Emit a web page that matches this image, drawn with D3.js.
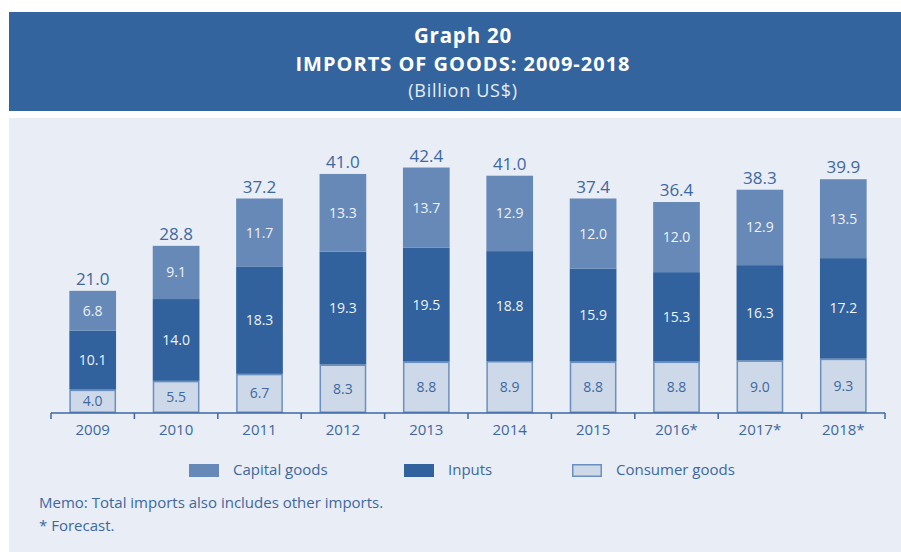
<!DOCTYPE html>
<html>
<head>
<meta charset="utf-8">
<script src="https://cdn.jsdelivr.net/npm/d3@7"></script>
<style>
  html, body { margin: 0; padding: 0; background: #ffffff; }
  svg { display: block; font-family: "Open Sans", "Noto Sans", sans-serif; }
</style>
</head>
<body>
<svg id="chart" width="901" height="552"></svg>
<script>
// Imports of goods by category, billion US$
const years = ["2009", "2010", "2011", "2012", "2013", "2014", "2015", "2016*", "2017*", "2018*"];
const consumerGoods = [4.0, 5.5, 6.7, 8.3, 8.8, 8.9, 8.8, 8.8, 9.0, 9.3];
const inputs = [10.1, 14.0, 18.3, 19.3, 19.5, 18.8, 15.9, 15.3, 16.3, 17.2];
const capitalGoods = [6.8, 9.1, 11.7, 13.3, 13.7, 12.9, 12.0, 12.0, 12.9, 13.5];
const totals = [21.0, 28.8, 37.2, 41.0, 42.4, 41.0, 37.4, 36.4, 38.3, 39.9];

const seriesKeys = ["consumer", "inputs", "capital"];
const seriesNames = { capital: "Capital goods", inputs: "Inputs", consumer: "Consumer goods" };
const fills = { capital: "#6689b7", inputs: "#31629d", consumer: "#cdd9e8" };
const consumerStroke = "#6b8fbe";
const textColor = "#3d68a2";

const rows = years.map((y, i) => ({
  year: y, consumer: consumerGoods[i], inputs: inputs[i], capital: capitalGoods[i], total: totals[i]
}));

const svg = d3.select("#chart");

// header band
svg.append("rect").attr("x", 9).attr("y", 12).attr("width", 892).attr("height", 99).attr("fill", "#33649e");
const titleX = 463;
svg.append("text").attr("x", titleX).attr("y", 43).attr("text-anchor", "middle")
  .attr("fill", "#ffffff").attr("font-weight", 700).attr("font-size", 20.5)
  .attr("letter-spacing", 0.8).text("Graph 20");
svg.append("text").attr("x", titleX).attr("y", 71).attr("text-anchor", "middle")
  .attr("fill", "#ffffff").attr("font-weight", 700).attr("font-size", 20)
  .attr("letter-spacing", 1).text("IMPORTS OF GOODS: 2009-2018");
svg.append("text").attr("x", titleX).attr("y", 96.5).attr("text-anchor", "middle")
  .attr("fill", "#e6edf6").attr("font-size", 18)
  .attr("letter-spacing", 0.7).text("(Billion US$)");

// chart panel
svg.append("rect").attr("x", 9).attr("y", 118).attr("width", 892).attr("height", 434).attr("fill", "#e9edf5");

const x = d3.scaleBand().domain(years).range([51, 885]).paddingInner(0.44).paddingOuter(0.22);
const y = d3.scaleLinear().domain([0, 45]).range([413, 150]);

const stacked = d3.stack().keys(seriesKeys)(rows);

const g = svg.append("g");
stacked.forEach(layer => {
  const key = layer.key;
  const inset = key === "consumer" ? 0.75 : 0;
  const lg = g.append("g");
  lg.selectAll("rect").data(layer).join("rect")
    .attr("x", d => x(d.data.year) + inset)
    .attr("y", d => y(d[1]) + inset)
    .attr("width", x.bandwidth() - 2 * inset)
    .attr("height", d => y(d[0]) - y(d[1]) - 2 * inset)
    .attr("fill", fills[key])
    .attr("stroke", key === "consumer" ? consumerStroke : "none")
    .attr("stroke-width", 1.5);
  lg.selectAll("text").data(layer).join("text")
    .attr("x", d => x(d.data.year) + x.bandwidth() / 2)
    .attr("y", d => (y(d[0]) + y(d[1])) / 2 + 5)
    .attr("text-anchor", "middle")
    .attr("font-size", 14)
    .attr("fill", key === "consumer" ? textColor : "#eef2f8")
    .text(d => d.data[key].toFixed(1));
});

// totals above each stack
g.selectAll("text.total").data(stacked[stacked.length - 1]).join("text")
  .attr("class", "total")
  .attr("x", d => x(d.data.year) + x.bandwidth() / 2)
  .attr("y", d => y(d[1]) - 6)
  .attr("text-anchor", "middle")
  .attr("font-size", 17)
  .attr("fill", textColor)
  .text((d, i) => totals[i].toFixed(1));

// category axis with ticks on band boundaries
const axisG = svg.append("g").attr("transform", "translate(0,413)");
const [r0, r1] = x.range();
axisG.append("line").attr("x1", r0).attr("x2", r1).attr("stroke", textColor).attr("stroke-width", 1.5);
const bandEdges = d3.range(years.length + 1).map(i => r0 + i * (r1 - r0) / years.length);
axisG.selectAll("line.tick").data(bandEdges).join("line")
  .attr("class", "tick")
  .attr("x1", d => d).attr("x2", d => d)
  .attr("y1", 0).attr("y2", 6)
  .attr("stroke", textColor).attr("stroke-width", 1.5);
axisG.selectAll("text").data(years).join("text")
  .attr("x", d => x(d) + x.bandwidth() / 2)
  .attr("y", 22)
  .attr("text-anchor", "middle")
  .attr("font-size", 15)
  .attr("fill", textColor)
  .text(d => d);

// legend
const legendItems = [
  { key: "capital", x: 189 },
  { key: "inputs", x: 404 },
  { key: "consumer", x: 572 }
];
const legend = svg.append("g");
legendItems.forEach(it => {
  const inset = it.key === "consumer" ? 0.75 : 0;
  legend.append("rect").attr("x", it.x + inset).attr("y", 464 + inset)
    .attr("width", 30 - 2 * inset).attr("height", 13 - 2 * inset)
    .attr("fill", fills[it.key])
    .attr("stroke", it.key === "consumer" ? consumerStroke : "none").attr("stroke-width", 1.5);
  legend.append("text").attr("x", it.x + 44).attr("y", 475)
    .attr("font-size", 15).attr("fill", textColor).text(seriesNames[it.key]);
});

// notes
svg.append("text").attr("x", 39).attr("y", 508).attr("font-size", 15).attr("fill", textColor)
  .text("Memo: Total imports also includes other imports.");
svg.append("text").attr("x", 39).attr("y", 531).attr("font-size", 15).attr("fill", textColor)
  .text("* Forecast.");
</script>
</body>
</html>
